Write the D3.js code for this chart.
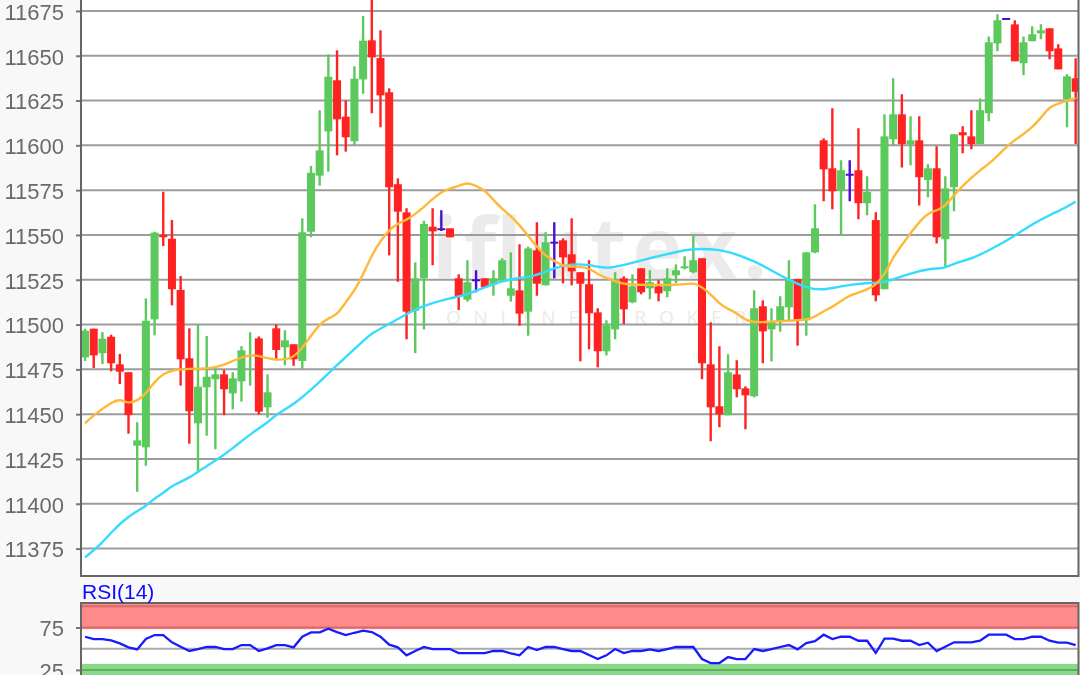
<!DOCTYPE html>
<html><head><meta charset="utf-8">
<script src="https://cdn.jsdelivr.net/npm/d3@7/dist/d3.min.js"></script>
<style>
html,body{margin:0;padding:0;background:#f8f8f8;overflow:hidden}
svg{display:block;filter:blur(0.5px)}
text{font-family:"Liberation Sans",Arial,sans-serif}
</style></head><body>
<svg id="c" width="1080" height="675"></svg>
<script>
const open = [11481.7,11497.7,11484,11493.2,11477.8,11473.4,11432.4,11431.5,11502.9,11550.1,11547.9,11519.3,11481.2,11444.9,11465,11469.5,11472.2,11461.6,11468.3,11482.3,11492.3,11453.8,11497.9,11487.3,11489,
11479.7,11551.8,11583.1,11607.8,11636.3,11616,11602.3,11636.8,11658.6,11648.7,11629.6,11578.3,11562.6,11507.7,11525.8,11554.6,11553.2,11553.7,11525.8,11513.9,11524.7,11525.8,11522.5,11524.7,11516.1,
11519.1,11507.2,11541.4,11521.9,11545.7,11547,11539.2,11529.2,11522.5,11506.8,11485.1,11497.3,11525.8,11512.4,11531.4,11520.2,11521.3,11518.6,11527.5,11531.4,11529.2,11537,11477.8,11454.4,11449.4,
11472.2,11464.4,11460,11510.2,11497.3,11501.6,11509.6,11525.4,11502.4,11540.3,11602.8,11587.2,11574.9,11583.6,11586.1,11567.7,11558.3,11519.7,11603.4,11617.3,11600.7,11602.8,11580.7,11587.2,11547.6,
11576.6,11607.3,11605,11600.7,11617.9,11656.9,11670.5,11667.5,11645.8,11658.1,11662.5,11665.3,11654.1,11625.7,11637.4];
const close = [11496.6,11482.8,11492.1,11478.4,11473.7,11449.5,11435.4,11502.1,11551.3,11548.7,11519.7,11480.6,11451.6,11465.3,11470.9,11472.2,11463.9,11470,11485.6,11482.9,11451.4,11462.2,11485.8,11491.2,11480.6,
11551.5,11584.7,11597.2,11638.3,11614.5,11604.5,11637.2,11658.4,11649.1,11627.9,11576.6,11563,11507.2,11525.8,11556.1,11552,11553.2,11548.7,11515.9,11523.6,11524.7,11520.8,11525.8,11535.9,11520.2,
11506.1,11542.5,11522.8,11545.9,11545.7,11537.5,11529.7,11522.8,11506.3,11485.1,11499.6,11524.7,11508.5,11521.3,11518,11523.6,11517.4,11525.8,11530.3,11532.5,11535.9,11478.4,11453.8,11449.9,11473.4,
11463.9,11460.5,11509.1,11496.2,11501.4,11510.2,11525.2,11502.4,11540.3,11553.7,11586.6,11574.4,11586.1,11583.6,11567.7,11574.1,11516.3,11605,11617.3,11600.7,11602.8,11582.2,11587.2,11548.7,11576,
11606.2,11605.6,11600.7,11619.6,11657.5,11669.8,11670.5,11646.9,11657.5,11662,11664.2,11652.5,11642.4,11638.5,11629.9];
const high = [11497.7,11497.7,11495.8,11494.3,11483.6,11473.4,11445.5,11514.6,11551.8,11574.1,11558.3,11527.1,11497.9,11499.9,11493.6,11476.5,11474.6,11473.4,11487.9,11495.7,11493.4,11472.2,11500.1,11496.8,11489,
11559.3,11588.5,11619.6,11650.8,11653,11625.1,11644.1,11672.2,11682,11664.2,11631.8,11581.6,11564.9,11534.7,11557.9,11564.9,11563.8,11553.7,11528,11535.9,11530.3,11525.8,11530.3,11537,11540.3,
11544.8,11543.4,11557.1,11551.5,11557.1,11548.1,11559.3,11529.2,11535.9,11509.1,11502.4,11529.2,11526.9,11528,11531.4,11530.3,11524.7,11531.4,11533.6,11538.1,11549.8,11537,11501.3,11487.9,11483.4,
11480.1,11465.5,11519.1,11513.5,11509.1,11515.8,11535.9,11525.4,11540.3,11567.1,11603.9,11620.7,11591.7,11591.7,11609.5,11582.7,11562.6,11617.3,11637.4,11628.5,11616.2,11616.2,11589.4,11599.5,11582.7,
11606.2,11610.6,11619.6,11626.2,11660.8,11673.1,11670.5,11669.8,11660.8,11666.4,11667.5,11665.3,11656.4,11639.6,11648.6];
const low = [11479.7,11475.8,11478,11473.9,11466.8,11439.1,11406.7,11421.2,11494,11543.8,11510.7,11465.9,11433.5,11417.3,11438,11430.4,11449.4,11452.7,11457,11465.9,11449.9,11448,11480.2,11477.3,11477,
11475.4,11548.7,11577.5,11585.3,11594.4,11596.5,11600,11628.8,11617.9,11610.1,11538.6,11523.9,11491.8,11484,11497.3,11533.1,11552.2,11548.7,11508.1,11512.8,11518,11520.8,11516.1,11524.7,11512.8,
11499.4,11493.8,11516.1,11521.9,11525.8,11523,11521.9,11479.5,11486.2,11476.1,11482.8,11491.8,11500.3,11511.9,11516.9,11514.1,11513,11515.2,11523,11530.8,11528.6,11469.5,11434.9,11442.7,11449.4,
11459.4,11441.6,11459.4,11478.4,11479.4,11496,11502.5,11488.2,11493.8,11539.8,11568.8,11564.3,11550.4,11568.8,11558.7,11561,11513,11519.7,11600,11587.7,11588.9,11566.5,11571,11545.3,11532.3,
11563.2,11595.6,11597.8,11600.7,11613.4,11652.5,11670.5,11646.9,11639.1,11658.1,11659.2,11648,11642.4,11610.1,11600.7];

const fastIdx = [0,1,3,4,5,6,7,8,9,10,12,15,17,19,20,22,24,25,27,28,29,30,31,32,33,34,35,36,37,38,39,40,41,42,43,44,45,46,47,48,49,50,51,52,53,54,55,56,58,59,61,62,66,69,70,71,72,73,74,75,76,77,80,83,84,85,86,87,88,90,91,92,93,94,95,96,97,98,99,100,101,102,103,104,105,106,107,108,109,110,111,112,113,114];
const fastVal = [11444.9,11449.5,11456.5,11458.5,11455.9,11457.5,11461.2,11468.2,11472.4,11474.6,11475.4,11475.4,11479.8,11483.4,11482.5,11479.8,11481.2,11486.9,11500.7,11503.5,11505.3,11512.6,11518.7,11527.9,11538.8,11546.6,11552.8,11556.5,11558.3,11561.7,11565.6,11570.1,11574,11575.9,11577.3,11579.4,11577.3,11575.1,11569.5,11564.5,11560.6,11555.5,11549.4,11543.3,11538.3,11535.5,11532.7,11532.3,11532.1,11527.6,11524.3,11522.1,11522.1,11522.3,11523.4,11521,11517,11511.5,11508.7,11506.4,11502.5,11500.9,11502,11502.5,11504.2,11507.6,11509.8,11513.1,11516.5,11519.3,11522.1,11527.6,11537.7,11544.4,11551.1,11557.2,11562.2,11563.5,11566.1,11572.3,11577.3,11581.8,11586.2,11589.6,11594.1,11599.1,11603,11606.3,11610,11615.3,11621.6,11623.3,11625,11626.4];
const slowIdx = [0,2,3,5,7,8,9,10,12,13,15,17,19,21,22,24,27,29,31,32,33,35,38,40,42,44,47,49,52,54,56,58,60,62,65,68,70,72,74,77,79,81,83,85,87,90,92,94,97,99,100,102,104,107,109,111,113,114];
const slowVal = [11370.1,11378.1,11384.2,11393.2,11398.5,11403.2,11405.8,11410.2,11414.4,11418,11423.9,11430.9,11438.9,11445.1,11450.1,11455.1,11467.9,11477.4,11486.4,11490.8,11495.3,11500.3,11508.7,11512,11514.8,11516.5,11523,11525.4,11527.1,11531.8,11533.8,11533.5,11531,11533.2,11537.1,11540.5,11542.3,11542.2,11541,11535.5,11530.2,11524.9,11520.4,11519.1,11521.5,11523.4,11523.2,11527.1,11531.3,11531.3,11534.3,11536.6,11541.3,11549.4,11556.1,11561.1,11565.6,11568.6];
const rsi = [64.1,61.4,61.4,59.8,56.3,51.6,49.2,61.4,66.1,66.1,57.5,52.4,47.3,49.6,52,52,49.6,49.6,54.3,54.3,47.3,50.4,54.3,54.3,51.6,
64.1,69.2,69.2,73.5,69.6,66.1,68.8,71.2,69.6,64.1,54.7,51.6,42.2,47.3,52,49.6,49.6,49.6,44.9,44.9,44.9,44.9,47.3,47.3,44.5,
42.2,52,48.4,52,52,49.6,47.3,47.3,42.5,37.8,42.2,49.6,44.9,47.3,47.3,49.2,47.3,49.6,52,52,52,37.8,33.1,33.1,40.2,
37.8,37.8,49.6,47.3,49.6,52,54.3,49.2,56.7,59,66.5,61.4,64.1,64.1,59.4,59.4,44.9,61.8,61.8,59.4,59.4,54.3,57.1,47.3,52.4,
57.5,57.5,57.5,59.4,66.5,66.5,66.5,61.4,61.4,64.1,64.1,59.4,57.1,57.1,54.3];
const priceTicks = [11375,11400,11425,11450,11475,11500,11525,11550,11575,11600,11625,11650,11675];
const rsiTicks = [25,75];
const rsiMid = 50, rsiOver = [75,100], rsiUnder = [0,25];
const wordmark = "iflutex.", strapline = "ONLINE BROKER", rsiTitle = "RSI(14)";

const W=1080,H=675,L=81,R=1078.5,T=0,B=576,RT=603,RB=675;
const svg=d3.select("#c");
const x=d3.scaleBand().domain(d3.range(open.length)).range([80.7,1080]);
const cx=i=>x(i)+x.bandwidth()/2;
const y=d3.scaleLinear().domain([11359.7,11681.1]).range([B,T]);
const ry=d3.scaleLinear().domain([50,75]).range([648.7,627.5]);

svg.append("rect").attr("x",L).attr("y",T).attr("width",R-L).attr("height",B-T).attr("fill","#fff");
svg.append("rect").attr("x",L).attr("y",RT).attr("width",R-L).attr("height",RB-RT).attr("fill","#fff");
const defs=svg.append("defs");
defs.append("clipPath").attr("id","pc").append("rect").attr("x",L).attr("y",T).attr("width",R-L).attr("height",B-T);
defs.append("clipPath").attr("id","rc").append("rect").attr("x",L).attr("y",RT).attr("width",R-L).attr("height",RB-RT);

// watermark
svg.append("text").text(wordmark).attr("x",432).attr("y",278).attr("font-size",84).attr("font-weight",700)
  .attr("textLength",335).attr("lengthAdjust","spacing").style("font-family","'Open Sans',sans-serif").attr("fill","#ebebeb");
svg.append("text").text(strapline).attr("x",446).attr("y",324).attr("font-size",19)
  .attr("textLength",300).attr("lengthAdjust","spacing").style("font-family","'Open Sans',sans-serif").attr("fill","#eaeaea");

// price axis
const ax=svg.append("g").attr("transform",`translate(${L},0)`)
  .call(d3.axisLeft(y).tickValues(priceTicks).tickFormat(d3.format("d")).tickSize(5).tickPadding(12));
ax.select(".domain").remove();
ax.selectAll("line").attr("stroke","#777").attr("stroke-width",2);
ax.selectAll("text").attr("font-size",22).attr("fill","#6a6a6a").attr("dy","0.38em").style("font-family","'Liberation Sans',Arial,sans-serif");
svg.append("g").selectAll("line").data(priceTicks).join("line")
  .attr("x1",L).attr("x2",R).attr("y1",y).attr("y2",y).attr("stroke","#9c9c9c").attr("stroke-width",2);

// candles
const gc=svg.append("g").attr("clip-path","url(#pc)");
const col=i=>close[i]>open[i]?"#5cc95c":close[i]<open[i]?"#ff2222":"#4a10d0";
const idx=d3.range(open.length);
gc.selectAll("line.w").data(idx).join("line").attr("class","w")
  .attr("x1",cx).attr("x2",cx).attr("y1",i=>y(high[i])).attr("y2",i=>y(low[i]))
  .attr("stroke",col).attr("stroke-width",2.4);
gc.selectAll("rect.b").data(idx).join("rect").attr("class","b")
  .attr("x",i=>cx(i)-4).attr("width",8)
  .attr("y",i=>y(Math.max(open[i],close[i]))-(open[i]===close[i]?1:0))
  .attr("height",i=>Math.max(open[i]===close[i]?2:1,Math.abs(y(open[i])-y(close[i]))))
  .attr("fill",col);

const fastPts=fastIdx.map((d,k)=>[cx(d),y(fastVal[k])]);
const slowPts=slowIdx.map((d,k)=>[cx(d),y(slowVal[k])]);
const ln=d3.line().curve(d3.curveBasis);
gc.append("path").attr("d",ln(slowPts)).attr("fill","none").attr("stroke","#35dcff").attr("stroke-width",2.4);
gc.append("path").attr("d",ln(fastPts)).attr("fill","none").attr("stroke","#ffb938").attr("stroke-width",2.4);

// frame
svg.append("path").attr("d",`M${L},0V${B}H${R}V0`).attr("fill","none").attr("stroke","#666").attr("stroke-width",2);

// RSI
const gr=svg.append("g").attr("clip-path","url(#rc)");
gr.append("rect").attr("x",L).attr("y",ry(rsiOver[1])-2.5).attr("width",R-L).attr("height",ry(rsiOver[0])-ry(rsiOver[1])+4.2).attr("fill","#ff8a8a");
gr.append("rect").attr("x",L).attr("y",ry(rsiUnder[1])-6).attr("width",R-L).attr("height",RB-ry(rsiUnder[1])+6).attr("fill","#8ad88a");
[[rsiOver[1],"#d96a6a"],[rsiOver[0],"#d96a6a"],[rsiUnder[1],"#60b060"]].forEach(([v,c])=>
  gr.append("line").attr("x1",L).attr("x2",R).attr("y1",ry(v)).attr("y2",ry(v)).attr("stroke",c).attr("stroke-width",2));
gr.append("line").attr("x1",L).attr("x2",R).attr("y1",ry(rsiMid)).attr("y2",ry(rsiMid)).attr("stroke","#aaa").attr("stroke-width",2);
gr.append("path").attr("d",d3.line().x((d,i)=>cx(i)).y(d=>ry(d))(rsi)).attr("fill","none").attr("stroke","#1a1aff").attr("stroke-width",2.3);
const ra=svg.append("g").attr("transform",`translate(${L},0)`)
  .call(d3.axisLeft(ry).tickValues(rsiTicks).tickFormat(d3.format("d")).tickSize(5).tickPadding(12));
ra.select(".domain").remove();
ra.selectAll("line").attr("stroke","#777").attr("stroke-width",2);
ra.selectAll("text").attr("font-size",22).attr("fill","#6a6a6a").attr("dy","0.38em").style("font-family","'Liberation Sans',Arial,sans-serif");
svg.append("path").attr("d",`M${L},${RB}V${RT}H${R}V${RB}`).attr("fill","none").attr("stroke","#666").attr("stroke-width",2);
svg.append("text").text(rsiTitle).attr("x",82).attr("y",599).attr("font-size",21).attr("fill","#0a0aff");
</script>
</body></html>
